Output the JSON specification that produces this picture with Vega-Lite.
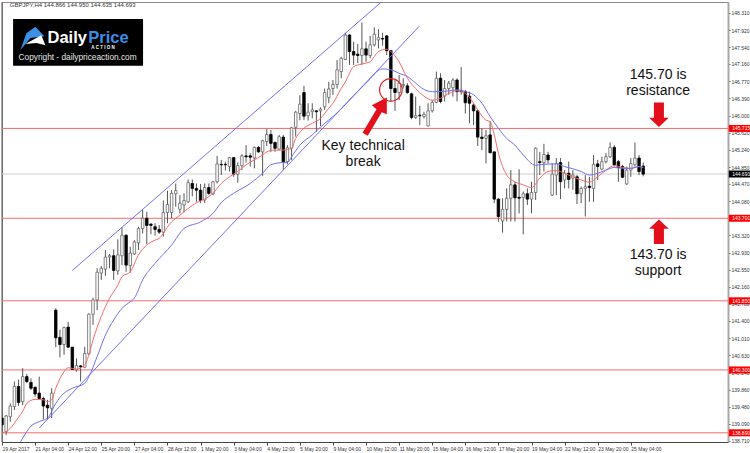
{
  "$schema": "https://vega.github.io/schema/vega-lite/v6.json",
  "width": 726,
  "height": 440,
  "autosize": {"type": "none"},
  "padding": {"left": 2, "top": 2, "right": 22, "bottom": 11},
  "background": "white",
  "view": {"stroke": "#8a8a8a", "strokeWidth": 1},
  "datasets": {
    "candles": [
      {"k":0,"o":139.22,"h":139.33,"l":138.88,"c":139.07},
      {"k":1,"o":138.92,"h":139.29,"l":138.84,"c":139.27},
      {"k":2,"o":139.25,"h":139.55,"l":139.14,"c":139.49},
      {"k":3,"o":139.48,"h":140.04,"l":139.40,"c":139.93},
      {"k":4,"o":139.93,"h":140.08,"l":139.49,"c":139.57},
      {"k":5,"o":139.59,"h":140.34,"l":139.51,"c":140.15},
      {"k":6,"o":140.15,"h":140.21,"l":140.00,"c":140.04},
      {"k":7,"o":140.02,"h":140.11,"l":139.85,"c":139.89},
      {"k":8,"o":139.91,"h":139.93,"l":139.70,"c":139.76},
      {"k":9,"o":139.78,"h":140.15,"l":139.63,"c":139.66},
      {"k":10,"o":139.66,"h":139.70,"l":139.19,"c":139.49},
      {"k":11,"o":139.51,"h":139.63,"l":139.19,"c":139.45},
      {"k":12,"o":139.44,"h":139.89,"l":139.22,"c":139.78},
      {"k":13,"o":141.64,"h":141.68,"l":140.81,"c":141.02},
      {"k":14,"o":141.03,"h":141.20,"l":140.58,"c":140.87},
      {"k":15,"o":140.87,"h":141.27,"l":140.64,"c":141.25},
      {"k":16,"o":141.26,"h":141.38,"l":140.79,"c":140.81},
      {"k":17,"o":140.81,"h":140.81,"l":140.30,"c":140.31},
      {"k":18,"o":140.30,"h":140.56,"l":140.26,"c":140.40},
      {"k":19,"o":140.39,"h":140.41,"l":140.04,"c":140.37},
      {"k":20,"o":140.36,"h":140.82,"l":140.34,"c":140.67},
      {"k":21,"o":140.66,"h":141.57,"l":140.64,"c":141.55},
      {"k":22,"o":141.55,"h":141.92,"l":141.31,"c":141.87},
      {"k":23,"o":141.87,"h":142.58,"l":141.64,"c":142.49},
      {"k":24,"o":142.47,"h":142.63,"l":142.32,"c":142.58},
      {"k":25,"o":142.56,"h":142.99,"l":142.41,"c":142.83},
      {"k":26,"o":142.83,"h":142.90,"l":142.58,"c":142.86},
      {"k":27,"o":142.86,"h":143.00,"l":142.32,"c":142.53},
      {"k":28,"o":142.52,"h":143.23,"l":142.43,"c":142.88},
      {"k":29,"o":142.86,"h":143.50,"l":142.65,"c":143.32},
      {"k":30,"o":143.32,"h":143.34,"l":142.50,"c":142.65},
      {"k":31,"o":142.64,"h":143.06,"l":142.48,"c":142.92},
      {"k":32,"o":142.90,"h":143.21,"l":142.88,"c":143.17},
      {"k":33,"o":143.15,"h":143.51,"l":142.99,"c":143.47},
      {"k":34,"o":143.47,"h":143.89,"l":143.36,"c":143.70},
      {"k":35,"o":143.70,"h":143.85,"l":143.12,"c":143.54},
      {"k":36,"o":143.57,"h":143.59,"l":143.34,"c":143.54},
      {"k":37,"o":143.51,"h":143.59,"l":143.31,"c":143.45},
      {"k":38,"o":143.45,"h":143.55,"l":143.35,"c":143.39},
      {"k":39,"o":143.39,"h":144.10,"l":143.29,"c":143.83},
      {"k":40,"o":143.83,"h":144.32,"l":143.59,"c":144.01},
      {"k":41,"o":143.83,"h":144.33,"l":143.70,"c":144.26},
      {"k":42,"o":144.25,"h":144.48,"l":143.96,"c":144.32},
      {"k":43,"o":143.90,"h":144.22,"l":143.81,"c":144.04},
      {"k":44,"o":144.00,"h":144.26,"l":143.83,"c":144.10},
      {"k":45,"o":144.07,"h":144.57,"l":144.04,"c":144.50},
      {"k":46,"o":144.48,"h":144.57,"l":144.19,"c":144.37},
      {"k":47,"o":144.37,"h":144.48,"l":144.07,"c":144.33},
      {"k":48,"o":144.33,"h":144.47,"l":144.04,"c":144.10},
      {"k":49,"o":144.11,"h":144.48,"l":144.04,"c":144.39},
      {"k":50,"o":144.39,"h":144.48,"l":144.22,"c":144.26},
      {"k":51,"o":144.25,"h":144.54,"l":144.22,"c":144.52},
      {"k":52,"o":144.52,"h":145.10,"l":144.48,"c":144.92},
      {"k":53,"o":144.91,"h":145.01,"l":144.67,"c":144.90},
      {"k":54,"o":144.91,"h":144.97,"l":144.77,"c":144.90},
      {"k":55,"o":144.86,"h":145.08,"l":144.75,"c":145.06},
      {"k":56,"o":145.06,"h":145.07,"l":144.63,"c":144.69},
      {"k":57,"o":144.69,"h":144.95,"l":144.50,"c":144.88},
      {"k":58,"o":144.88,"h":145.14,"l":144.78,"c":145.10},
      {"k":59,"o":145.10,"h":145.34,"l":144.95,"c":145.08},
      {"k":60,"o":145.10,"h":145.16,"l":144.86,"c":145.07},
      {"k":61,"o":145.05,"h":145.31,"l":144.82,"c":145.29},
      {"k":62,"o":145.29,"h":145.32,"l":145.17,"c":145.19},
      {"k":63,"o":145.19,"h":145.46,"l":144.65,"c":145.44},
      {"k":64,"o":145.42,"h":145.70,"l":145.32,"c":145.58},
      {"k":65,"o":145.58,"h":145.68,"l":145.19,"c":145.38},
      {"k":66,"o":145.40,"h":145.42,"l":145.19,"c":145.27},
      {"k":67,"o":145.25,"h":145.57,"l":145.23,"c":145.53},
      {"k":68,"o":145.52,"h":145.57,"l":144.78,"c":144.97},
      {"k":69,"o":144.97,"h":145.34,"l":144.91,"c":145.28},
      {"k":70,"o":145.27,"h":145.75,"l":145.01,"c":145.73},
      {"k":71,"o":145.74,"h":146.11,"l":145.53,"c":146.08},
      {"k":72,"o":146.05,"h":146.46,"l":145.90,"c":146.26},
      {"k":73,"o":146.52,"h":146.67,"l":145.90,"c":145.99},
      {"k":74,"o":146.00,"h":146.28,"l":145.89,"c":146.08},
      {"k":75,"o":146.09,"h":146.28,"l":145.94,"c":146.13},
      {"k":76,"o":146.11,"h":146.11,"l":145.64,"c":146.09},
      {"k":77,"o":146.11,"h":146.19,"l":145.77,"c":146.15},
      {"k":78,"o":146.20,"h":146.61,"l":146.13,"c":146.52},
      {"k":79,"o":146.41,"h":146.76,"l":146.28,"c":146.60},
      {"k":80,"o":146.61,"h":146.80,"l":146.47,"c":146.70},
      {"k":81,"o":146.70,"h":147.25,"l":146.61,"c":147.03},
      {"k":82,"o":146.99,"h":147.32,"l":146.84,"c":147.29},
      {"k":83,"o":147.26,"h":147.86,"l":147.25,"c":147.81},
      {"k":84,"o":147.81,"h":147.83,"l":147.14,"c":147.44},
      {"k":85,"o":147.44,"h":147.66,"l":147.14,"c":147.36},
      {"k":86,"o":147.38,"h":147.61,"l":147.18,"c":147.35},
      {"k":87,"o":147.35,"h":148.09,"l":147.14,"c":147.50},
      {"k":88,"o":147.50,"h":147.66,"l":147.21,"c":147.36},
      {"k":89,"o":147.35,"h":147.79,"l":147.29,"c":147.59},
      {"k":90,"o":147.59,"h":147.98,"l":147.55,"c":147.83},
      {"k":91,"o":147.70,"h":147.94,"l":147.51,"c":147.75},
      {"k":92,"o":147.73,"h":147.86,"l":147.57,"c":147.72},
      {"k":93,"o":147.79,"h":147.81,"l":147.36,"c":147.46},
      {"k":94,"o":147.46,"h":147.47,"l":146.32,"c":146.61},
      {"k":95,"o":146.61,"h":146.80,"l":146.11,"c":146.52},
      {"k":96,"o":146.52,"h":146.91,"l":146.35,"c":146.73},
      {"k":97,"o":146.67,"h":146.84,"l":146.61,"c":146.70},
      {"k":98,"o":146.67,"h":146.73,"l":146.49,"c":146.52},
      {"k":99,"o":146.49,"h":146.52,"l":145.92,"c":145.96},
      {"k":100,"o":145.96,"h":146.43,"l":145.93,"c":146.00},
      {"k":101,"o":146.01,"h":146.22,"l":145.79,"c":146.00},
      {"k":102,"o":145.98,"h":146.09,"l":145.94,"c":146.03},
      {"k":103,"o":145.77,"h":146.28,"l":145.76,"c":146.11},
      {"k":104,"o":146.11,"h":146.35,"l":146.07,"c":146.30},
      {"k":105,"o":146.30,"h":146.99,"l":146.28,"c":146.84},
      {"k":106,"o":146.84,"h":146.95,"l":146.28,"c":146.32},
      {"k":107,"o":146.44,"h":146.80,"l":146.32,"c":146.61},
      {"k":108,"o":146.61,"h":146.78,"l":146.47,"c":146.73},
      {"k":109,"o":146.63,"h":146.84,"l":146.43,"c":146.80},
      {"k":110,"o":146.80,"h":146.84,"l":146.32,"c":146.54},
      {"k":111,"o":146.56,"h":147.09,"l":146.47,"c":146.54},
      {"k":112,"o":146.54,"h":146.58,"l":146.05,"c":146.29},
      {"k":113,"o":146.44,"h":146.54,"l":145.83,"c":146.28},
      {"k":114,"o":146.24,"h":146.28,"l":145.79,"c":146.11},
      {"k":115,"o":146.11,"h":146.13,"l":145.32,"c":145.52},
      {"k":116,"o":145.52,"h":145.72,"l":145.23,"c":145.49},
      {"k":117,"o":145.49,"h":145.68,"l":144.93,"c":145.55},
      {"k":118,"o":145.57,"h":145.88,"l":145.16,"c":145.17},
      {"k":119,"o":145.19,"h":145.19,"l":144.04,"c":144.13},
      {"k":120,"o":144.13,"h":144.15,"l":143.62,"c":143.74},
      {"k":121,"o":143.64,"h":144.15,"l":143.38,"c":143.90},
      {"k":122,"o":143.90,"h":144.37,"l":143.63,"c":144.15},
      {"k":123,"o":144.15,"h":144.78,"l":143.63,"c":144.45},
      {"k":124,"o":144.45,"h":144.52,"l":143.63,"c":144.16},
      {"k":125,"o":144.17,"h":144.80,"l":143.81,"c":144.15},
      {"k":126,"o":144.17,"h":144.30,"l":143.34,"c":144.25},
      {"k":127,"o":144.25,"h":144.37,"l":144.00,"c":144.13},
      {"k":128,"o":144.13,"h":144.52,"l":143.81,"c":144.28},
      {"k":129,"o":144.28,"h":145.29,"l":144.11,"c":145.27},
      {"k":130,"o":144.97,"h":145.19,"l":144.67,"c":144.95},
      {"k":131,"o":144.95,"h":145.37,"l":144.75,"c":145.13},
      {"k":132,"o":145.12,"h":145.19,"l":144.93,"c":145.01},
      {"k":133,"o":144.22,"h":144.93,"l":144.20,"c":144.69},
      {"k":134,"o":144.67,"h":145.05,"l":144.22,"c":144.93},
      {"k":135,"o":144.95,"h":145.05,"l":144.13,"c":144.52},
      {"k":136,"o":144.56,"h":144.78,"l":144.37,"c":144.71},
      {"k":137,"o":144.71,"h":144.97,"l":144.37,"c":144.57},
      {"k":138,"o":144.60,"h":144.78,"l":144.34,"c":144.67},
      {"k":139,"o":144.63,"h":144.67,"l":144.02,"c":144.25},
      {"k":140,"o":144.25,"h":144.41,"l":144.04,"c":144.37},
      {"k":141,"o":144.37,"h":144.67,"l":143.74,"c":144.41},
      {"k":142,"o":144.42,"h":144.63,"l":144.07,"c":144.39},
      {"k":143,"o":144.37,"h":145.12,"l":144.07,"c":144.91},
      {"k":144,"o":144.92,"h":145.01,"l":144.56,"c":144.86},
      {"k":145,"o":144.80,"h":145.08,"l":144.78,"c":144.97},
      {"k":146,"o":144.97,"h":145.16,"l":144.93,"c":145.08},
      {"k":147,"o":145.08,"h":145.40,"l":145.05,"c":145.29},
      {"k":148,"o":145.29,"h":145.34,"l":144.86,"c":144.90},
      {"k":149,"o":144.97,"h":145.01,"l":144.52,"c":144.84},
      {"k":150,"o":144.86,"h":144.90,"l":144.60,"c":144.62},
      {"k":151,"o":144.47,"h":144.86,"l":144.45,"c":144.78},
      {"k":152,"o":144.78,"h":145.05,"l":144.63,"c":144.93},
      {"k":153,"o":144.90,"h":145.40,"l":144.86,"c":145.05},
      {"k":154,"o":145.05,"h":145.12,"l":144.67,"c":144.75},
      {"k":155,"o":144.87,"h":144.95,"l":144.64,"c":144.69}
    ],
    "lines": [
      {"s":"fast","k":0,"p":138.88},{"s":"fast","k":2,"p":138.99},{"s":"fast","k":4,"p":139.24},{"s":"fast","k":5,"p":139.37},{"s":"fast","k":6,"p":139.55},{"s":"fast","k":8,"p":139.64},{"s":"fast","k":10,"p":139.63},{"s":"fast","k":11,"p":139.59},{"s":"fast","k":12,"p":139.63},{"s":"fast","k":13,"p":139.89},{"s":"fast","k":15,"p":140.26},{"s":"fast","k":16,"p":140.35},{"s":"fast","k":18,"p":140.32},{"s":"fast","k":20,"p":140.41},{"s":"fast","k":21,"p":140.64},{"s":"fast","k":22,"p":140.97},{"s":"fast","k":24,"p":141.50},{"s":"fast","k":26,"p":141.91},{"s":"fast","k":28,"p":142.20},{"s":"fast","k":29,"p":142.39},{"s":"fast","k":31,"p":142.50},{"s":"fast","k":33,"p":142.88},{"s":"fast","k":35,"p":143.10},{"s":"fast","k":37,"p":143.21},{"s":"fast","k":38,"p":143.25},{"s":"fast","k":39,"p":143.36},{"s":"fast","k":40,"p":143.51},{"s":"fast","k":41,"p":143.62},{"s":"fast","k":43,"p":143.77},{"s":"fast","k":45,"p":143.92},{"s":"fast","k":47,"p":144.05},{"s":"fast","k":49,"p":144.13},{"s":"fast","k":51,"p":144.26},{"s":"fast","k":53,"p":144.48},{"s":"fast","k":55,"p":144.63},{"s":"fast","k":57,"p":144.75},{"s":"fast","k":59,"p":144.90},{"s":"fast","k":61,"p":145.01},{"s":"fast","k":63,"p":145.12},{"s":"fast","k":64,"p":145.19},{"s":"fast","k":66,"p":145.23},{"s":"fast","k":68,"p":145.23},{"s":"fast","k":70,"p":145.27},{"s":"fast","k":71,"p":145.49},{"s":"fast","k":73,"p":145.72},{"s":"fast","k":75,"p":145.83},{"s":"fast","k":77,"p":145.94},{"s":"fast","k":79,"p":146.17},{"s":"fast","k":80,"p":146.28},{"s":"fast","k":82,"p":146.61},{"s":"fast","k":83,"p":146.76},{"s":"fast","k":85,"p":147.10},{"s":"fast","k":87,"p":147.16},{"s":"fast","k":89,"p":147.21},{"s":"fast","k":91,"p":147.44},{"s":"fast","k":93,"p":147.49},{"s":"fast","k":94,"p":147.44},{"s":"fast","k":96,"p":147.21},{"s":"fast","k":98,"p":146.84},{"s":"fast","k":100,"p":146.61},{"s":"fast","k":102,"p":146.44},{"s":"fast","k":104,"p":146.35},{"s":"fast","k":106,"p":146.39},{"s":"fast","k":108,"p":146.50},{"s":"fast","k":110,"p":146.56},{"s":"fast","k":112,"p":146.50},{"s":"fast","k":114,"p":146.28},{"s":"fast","k":115,"p":146.13},{"s":"fast","k":117,"p":145.90},{"s":"fast","k":118,"p":145.87},{"s":"fast","k":119,"p":145.57},{"s":"fast","k":120,"p":145.16},{"s":"fast","k":121,"p":144.86},{"s":"fast","k":122,"p":144.67},{"s":"fast","k":124,"p":144.52},{"s":"fast","k":126,"p":144.45},{"s":"fast","k":128,"p":144.39},{"s":"fast","k":130,"p":144.60},{"s":"fast","k":132,"p":144.75},{"s":"fast","k":134,"p":144.77},{"s":"fast","k":136,"p":144.71},{"s":"fast","k":138,"p":144.63},{"s":"fast","k":140,"p":144.56},{"s":"fast","k":142,"p":144.51},{"s":"fast","k":144,"p":144.63},{"s":"fast","k":146,"p":144.78},{"s":"fast","k":148,"p":144.88},{"s":"fast","k":150,"p":144.84},{"s":"fast","k":152,"p":144.82},{"s":"fast","k":154,"p":144.86},{"s":"fast","k":155,"p":144.84},
      {"s":"slow","k":4,"p":138.60},{"s":"slow","k":5,"p":138.77},{"s":"slow","k":7,"p":139.04},{"s":"slow","k":9,"p":139.14},{"s":"slow","k":11,"p":139.22},{"s":"slow","k":13,"p":139.55},{"s":"slow","k":15,"p":139.78},{"s":"slow","k":17,"p":139.89},{"s":"slow","k":20,"p":140.00},{"s":"slow","k":21,"p":140.15},{"s":"slow","k":23,"p":140.60},{"s":"slow","k":25,"p":141.08},{"s":"slow","k":27,"p":141.42},{"s":"slow","k":29,"p":141.68},{"s":"slow","k":31,"p":141.83},{"s":"slow","k":32,"p":141.91},{"s":"slow","k":34,"p":142.32},{"s":"slow","k":37,"p":142.69},{"s":"slow","k":41,"p":143.10},{"s":"slow","k":44,"p":143.47},{"s":"slow","k":48,"p":143.62},{"s":"slow","k":51,"p":143.81},{"s":"slow","k":53,"p":144.05},{"s":"slow","k":56,"p":144.26},{"s":"slow","k":60,"p":144.48},{"s":"slow","k":63,"p":144.71},{"s":"slow","k":65,"p":144.90},{"s":"slow","k":68,"p":144.95},{"s":"slow","k":69,"p":144.95},{"s":"slow","k":70,"p":145.08},{"s":"slow","k":72,"p":145.34},{"s":"slow","k":75,"p":145.57},{"s":"slow","k":78,"p":145.83},{"s":"slow","k":80,"p":145.98},{"s":"slow","k":84,"p":146.35},{"s":"slow","k":88,"p":146.73},{"s":"slow","k":92,"p":147.05},{"s":"slow","k":94,"p":147.03},{"s":"slow","k":96,"p":146.95},{"s":"slow","k":98,"p":146.88},{"s":"slow","k":100,"p":146.73},{"s":"slow","k":102,"p":146.59},{"s":"slow","k":104,"p":146.54},{"s":"slow","k":106,"p":146.54},{"s":"slow","k":108,"p":146.56},{"s":"slow","k":110,"p":146.58},{"s":"slow","k":112,"p":146.54},{"s":"slow","k":114,"p":146.47},{"s":"slow","k":116,"p":146.28},{"s":"slow","k":118,"p":145.98},{"s":"slow","k":120,"p":145.72},{"s":"slow","k":122,"p":145.49},{"s":"slow","k":124,"p":145.34},{"s":"slow","k":126,"p":145.12},{"s":"slow","k":129,"p":144.89},{"s":"slow","k":131,"p":144.91},{"s":"slow","k":134,"p":144.92},{"s":"slow","k":136,"p":144.86},{"s":"slow","k":138,"p":144.81},{"s":"slow","k":140,"p":144.75},{"s":"slow","k":142,"p":144.67},{"s":"slow","k":144,"p":144.71},{"s":"slow","k":146,"p":144.78},{"s":"slow","k":148,"p":144.84},{"s":"slow","k":150,"p":144.82},{"s":"slow","k":152,"p":144.82},{"s":"slow","k":154,"p":144.86},{"s":"slow","k":155,"p":144.84},
      {"s":"upper","k":17.0,"p":142.53},{"s":"upper","k":91.7,"p":148.55},
      {"s":"lower","k":9.04,"p":139.00},{"s":"lower","k":100.9,"p":148.01}
    ],
    "levels": [
      {"p":145.715,"tag":"red"},{"p":143.701,"tag":"red"},{"p":141.85,"tag":"red"},{"p":140.30,"tag":"red"},{"p":138.89,"tag":"red"},{"p":144.693,"tag":"last"}
    ],
    "notes": [
      {"k":87.3,"p":145.33,"text":"Key technical"},
      {"k":87.3,"p":144.97,"text":"break"},
      {"k":158.6,"p":146.91,"text":"145.70 is"},
      {"k":158.6,"p":146.55,"text":"resistance"},
      {"k":158.6,"p":142.88,"text":"143.70 is"},
      {"k":158.6,"p":142.52,"text":"support"}
    ]
  },
  "layer": [
    {
      "data": {"name": "levels"},
      "mark": {"type": "rule", "strokeWidth": 1},
      "encoding": {
        "y": {"field": "p", "type": "quantitative", "scale": {"domain": [138.684, 148.55], "zero": false, "nice": false, "padding": 0},
          "axis": {"orient": "right", "title": null, "grid": false, "tickCount": 60, "values": [148.31,147.92,147.54,147.16,146.77,146.39,146.0,145.62,145.24,144.85,144.47,144.08,143.7,143.32,142.93,142.55,142.16,141.78,141.4,141.01,140.63,140.24,139.86,139.48,139.09,138.71], "format": ".3f", "domainColor": "#a8a8a8", "domainWidth": 2, "tickColor": "#555", "tickSize": 2, "labelPadding": 1, "labelFontSize": 5, "labelFont": "Liberation Sans", "labelColor": "#333", "labelOverlap": false, "labelFlush": false}},
        "x": {"datum": 50, "type": "quantitative", "scale": {"domain": [0, 175.5], "zero": false, "nice": false, "padding": 0},
          "axis": {"orient": "bottom", "title": null, "grid": false, "tickCount": 60, "values": [0,8,16,24,32,40,48,56,64,72,80,88,96,104,112,120,128,136,144,152], "labelExpr": "{'0':'19 Apr 2017','8':'21 Apr 04:00','16':'24 Apr 12:00','24':'25 Apr 20:00','32':'27 Apr 04:00','40':'28 Apr 12:00','48':'1 May 20:00','56':'3 May 04:00','64':'4 May 12:00','72':'5 May 20:00','80':'9 May 04:00','88':'10 May 12:00','96':'11 May 20:00','104':'15 May 04:00','112':'16 May 12:00','120':'17 May 20:00','128':'19 May 04:00','136':'22 May 12:00','144':'23 May 20:00','152':'25 May 04:00'}[datum.value]", "domainColor": "#444", "tickColor": "#444", "tickSize": 3, "labelAlign": "left", "labelPadding": 1, "labelFontSize": 5, "labelFont": "Liberation Sans", "labelColor": "#333", "labelOverlap": false, "labelFlush": false}},
        "opacity": {"value": 0}
      }
    },
    {
      "data": {"values": [{"k": 0}]},
      "mark": {"type": "rule", "color": "#555", "strokeWidth": 1},
      "encoding": {
        "x": {"field": "k", "type": "quantitative", "scale": {"domain": [0, 175.5], "zero": false, "nice": false, "padding": 0}}
      }
    },
    {
      "data": {"name": "levels"},
      "mark": {"type": "rule", "strokeWidth": 1},
      "encoding": {
        "y": {"field": "p", "type": "quantitative", "scale": {"domain": [138.684, 148.55], "zero": false, "nice": false, "padding": 0}},
        "color": {"condition": {"test": "datum.tag === 'red'", "value": "#f86a6a"}, "value": "#cfcfcf"}
      }
    },
    {
      "data": {"name": "candles"},
      "mark": {"type": "rule", "strokeWidth": 1, "color": "#555", "clip": true},
      "encoding": {
        "x": {"field": "k", "type": "quantitative", "scale": {"domain": [0, 175.5], "zero": false, "nice": false, "padding": 0}},
        "y": {"field": "l", "type": "quantitative", "scale": {"domain": [138.684, 148.55], "zero": false, "nice": false, "padding": 0}},
        "y2": {"field": "h"}
      }
    },
    {
      "data": {"name": "candles"},
      "mark": {"type": "bar", "size": 2.5, "strokeWidth": 0.8, "clip": true},
      "encoding": {
        "x": {"field": "k", "type": "quantitative", "scale": {"domain": [0, 175.5], "zero": false, "nice": false, "padding": 0}},
        "y": {"field": "o", "type": "quantitative", "scale": {"domain": [138.684, 148.55], "zero": false, "nice": false, "padding": 0}},
        "y2": {"field": "c"},
        "fill": {"condition": {"test": "datum.c < datum.o", "value": "#000"}, "value": "#fff"},
        "stroke": {"condition": {"test": "datum.c < datum.o", "value": "#000"}, "value": "#666"}
      }
    },
    {
      "data": {"name": "lines"},
      "mark": {"type": "line", "strokeWidth": 1, "interpolate": "monotone", "clip": true},
      "encoding": {
        "x": {"field": "k", "type": "quantitative", "scale": {"domain": [0, 175.5], "zero": false, "nice": false, "padding": 0}},
        "y": {"field": "p", "type": "quantitative", "scale": {"domain": [138.684, 148.55], "zero": false, "nice": false, "padding": 0}},
        "color": {"field": "s", "type": "nominal", "legend": null, "scale": {"domain": ["fast", "slow", "upper", "lower"], "range": ["#f86a6a", "#7070f0", "#7070f0", "#7070f0"]}}
      }
    },
    {
      "data": {"name": "levels"},
      "mark": {"type": "rule", "strokeWidth": 7},
      "encoding": {
        "x": {"datum": 175.7, "type": "quantitative", "scale": {"domain": [0, 175.5], "zero": false, "nice": false, "padding": 0}},
        "x2": {"datum": 180.9},
        "y": {"field": "p", "type": "quantitative", "scale": {"domain": [138.684, 148.55], "zero": false, "nice": false, "padding": 0}},
        "color": {"condition": {"test": "datum.tag === 'red'", "value": "#ff0000"}, "value": "#000"}
      }
    },
    {
      "data": {"name": "levels"},
      "mark": {"type": "text", "align": "left", "baseline": "middle", "font": "Liberation Sans", "fontSize": 5, "color": "#fff"},
      "encoding": {
        "x": {"datum": 176.5, "type": "quantitative", "scale": {"domain": [0, 175.5], "zero": false, "nice": false, "padding": 0}},
        "y": {"field": "p", "type": "quantitative", "scale": {"domain": [138.684, 148.55], "zero": false, "nice": false, "padding": 0}},
        "text": {"field": "p", "format": ".3f"}
      }
    },
    {
      "data": {"name": "notes"},
      "mark": {"type": "text", "align": "center", "baseline": "middle", "font": "Liberation Sans", "fontSize": 14, "color": "#111"},
      "encoding": {
        "x": {"field": "k", "type": "quantitative", "scale": {"domain": [0, 175.5], "zero": false, "nice": false, "padding": 0}},
        "y": {"field": "p", "type": "quantitative", "scale": {"domain": [138.684, 148.55], "zero": false, "nice": false, "padding": 0}},
        "text": {"field": "text"}
      }
    },
    {
      "data": {"values": [{"k": 158.8, "p": 146.02}]},
      "mark": {"type": "point", "filled": true, "opacity": 1, "color": "#e3101c", "size": 600, "shape": "M-.41,-1L.41,-1L.41,.24L.8,.24L0,1L-.8,.24L-.41,.24Z"},
      "encoding": {
        "x": {"field": "k", "type": "quantitative", "scale": {"domain": [0, 175.5], "zero": false, "nice": false, "padding": 0}},
        "y": {"field": "p", "type": "quantitative", "scale": {"domain": [138.684, 148.55], "zero": false, "nice": false, "padding": 0}}
      }
    },
    {
      "data": {"values": [{"k": 158.8, "p": 143.40}]},
      "mark": {"type": "point", "filled": true, "opacity": 1, "color": "#e3101c", "size": 600, "shape": "M-.41,1L.41,1L.41,-.24L.8,-.24L0,-1L-.8,-.24L-.41,-.24Z"},
      "encoding": {
        "x": {"field": "k", "type": "quantitative", "scale": {"domain": [0, 175.5], "zero": false, "nice": false, "padding": 0}},
        "y": {"field": "p", "type": "quantitative", "scale": {"domain": [138.684, 148.55], "zero": false, "nice": false, "padding": 0}}
      }
    },
    {
      "data": {"values": [{"k": 90.2, "p": 145.99}]},
      "mark": {"type": "point", "filled": true, "opacity": 1, "color": "#e3101c", "size": 1600, "shape": "M.585,-.935L.585,-.1L.33,-.2L-.37,.975L-.63,.825L.07,-.35L-.165,-.55Z"},
      "encoding": {
        "x": {"field": "k", "type": "quantitative", "scale": {"domain": [0, 175.5], "zero": false, "nice": false, "padding": 0}},
        "y": {"field": "p", "type": "quantitative", "scale": {"domain": [138.684, 148.55], "zero": false, "nice": false, "padding": 0}}
      }
    },
    {
      "data": {"values": [{"k": 94.0, "p": 146.58}]},
      "mark": {"type": "point", "filled": false, "opacity": 1, "color": "#e02020", "strokeWidth": 1.2, "size": 510},
      "encoding": {
        "x": {"field": "k", "type": "quantitative", "scale": {"domain": [0, 175.5], "zero": false, "nice": false, "padding": 0}},
        "y": {"field": "p", "type": "quantitative", "scale": {"domain": [138.684, 148.55], "zero": false, "nice": false, "padding": 0}}
      }
    },
    {
      "data": {"values": [{"k0": 2.68, "k1": 34.1, "p0": 148.17, "p1": 147.12}]},
      "mark": {"type": "rect", "color": "#000"},
      "encoding": {
        "x": {"field": "k0", "type": "quantitative", "scale": {"domain": [0, 175.5], "zero": false, "nice": false, "padding": 0}},
        "x2": {"field": "k1"},
        "y": {"field": "p0", "type": "quantitative", "scale": {"domain": [138.684, 148.55], "zero": false, "nice": false, "padding": 0}},
        "y2": {"field": "p1"}
      }
    },
    {
      "data": {"values": [{"k": 7.47, "p": 147.74}]},
      "mark": {"type": "point", "filled": true, "opacity": 1, "color": "#3b8fe6", "size": 676, "shape": "M.19,-.87L.88,-.15L-.19,0L-.96,.92L-.5,-.38Z"},
      "encoding": {
        "x": {"field": "k", "type": "quantitative", "scale": {"domain": [0, 175.5], "zero": false, "nice": false, "padding": 0}},
        "y": {"field": "p", "type": "quantitative", "scale": {"domain": [138.684, 148.55], "zero": false, "nice": false, "padding": 0}}
      }
    },
    {
      "data": {"values": [{"k": 7.47, "p": 147.74}]},
      "mark": {"type": "point", "filled": true, "opacity": 1, "color": "#ffffff", "size": 676, "shape": "M-.58,.46L.65,-.23L.96,.54L.27,.38Z"},
      "encoding": {
        "x": {"field": "k", "type": "quantitative", "scale": {"domain": [0, 175.5], "zero": false, "nice": false, "padding": 0}},
        "y": {"field": "p", "type": "quantitative", "scale": {"domain": [138.684, 148.55], "zero": false, "nice": false, "padding": 0}}
      }
    },
    {
      "data": {"values": [
        {"k": 11.0, "p": 147.63, "text": "Daily", "c": "#ffffff", "size": 16.5},
        {"k": 20.85, "p": 147.63, "text": "Price", "c": "#3b8fe6", "size": 16.5},
        {"k": 21.6, "p": 147.50, "text": "A C T I O N", "c": "#ffffff", "size": 4.5}
      ]},
      "mark": {"type": "text", "align": "left", "baseline": "alphabetic", "font": "Liberation Sans", "fontWeight": "bold"},
      "encoding": {
        "x": {"field": "k", "type": "quantitative", "scale": {"domain": [0, 175.5], "zero": false, "nice": false, "padding": 0}},
        "y": {"field": "p", "type": "quantitative", "scale": {"domain": [138.684, 148.55], "zero": false, "nice": false, "padding": 0}},
        "text": {"field": "text"},
        "color": {"field": "c", "type": "nominal", "scale": null},
        "size": {"field": "size", "type": "quantitative", "scale": null}
      }
    },
    {
      "data": {"values": [
        {"k": 4.0, "p": 147.24, "text": "Copyright - dailypriceaction.com", "c": "#e8e8e8", "size": 8.3},
        {"k": 1.9, "p": 148.44, "text": "GBPJPY,H4  144.866 144.950 144.635 144.693", "c": "#333333", "size": 6}
      ]},
      "mark": {"type": "text", "align": "left", "baseline": "alphabetic", "font": "Liberation Sans"},
      "encoding": {
        "x": {"field": "k", "type": "quantitative", "scale": {"domain": [0, 175.5], "zero": false, "nice": false, "padding": 0}},
        "y": {"field": "p", "type": "quantitative", "scale": {"domain": [138.684, 148.55], "zero": false, "nice": false, "padding": 0}},
        "text": {"field": "text"},
        "color": {"field": "c", "type": "nominal", "scale": null},
        "size": {"field": "size", "type": "quantitative", "scale": null}
      }
    }
  ]
}
